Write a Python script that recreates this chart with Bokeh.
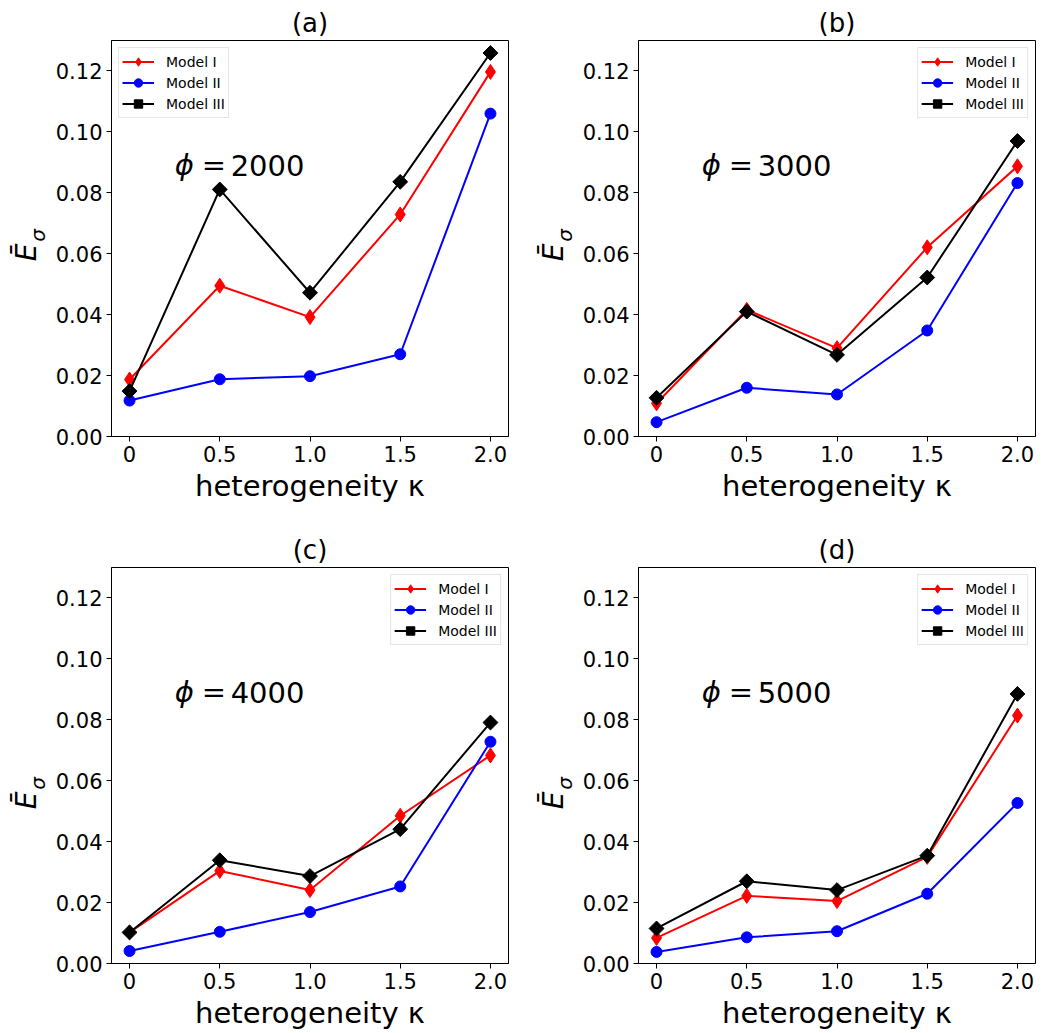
import numpy as np
from bokeh.plotting import figure
from bokeh.models import FixedTicker, PrintfTickFormatter, Label, Range1d
from bokeh.layouts import column, row
from bokeh.embed import file_html
from bokeh.resources import INLINE

# ---- data ----
kappa = [0.0, 0.5, 1.0, 1.5, 2.0]
x_tick_labels = ["0", "0.5", "1.0", "1.5", "2.0"]
y_ticks = [0.0, 0.02, 0.04, 0.06, 0.08, 0.10, 0.12]
panel_titles = ["(a)", "(b)", "(c)", "(d)"]
phi_values = [2000, 3000, 4000, 5000]
series_names = ["Model I", "Model II", "Model III"]

model1_a = [0.0187, 0.0495, 0.0392, 0.0729, 0.1197]
model2_a = [0.0118, 0.0188, 0.0198, 0.0270, 0.1060]
model3_a = [0.0149, 0.0811, 0.0472, 0.0836, 0.1259]

model1_b = [0.0109, 0.0416, 0.0290, 0.0621, 0.0887]
model2_b = [0.0047, 0.0160, 0.0138, 0.0348, 0.0832]
model3_b = [0.0127, 0.0410, 0.0268, 0.0522, 0.0970]

model1_c = [0.0102, 0.0304, 0.0241, 0.0485, 0.0683]
model2_c = [0.0041, 0.0104, 0.0169, 0.0253, 0.0728]
model3_c = [0.0102, 0.0339, 0.0287, 0.0441, 0.0791]

model1_d = [0.0084, 0.0222, 0.0205, 0.0350, 0.0814]
model2_d = [0.0038, 0.0086, 0.0106, 0.0229, 0.0527]
model3_d = [0.0115, 0.0270, 0.0241, 0.0354, 0.0885]

panel_data = [
    (model1_a, model2_a, model3_a),
    (model1_b, model2_b, model3_b),
    (model1_c, model2_c, model3_c),
    (model1_d, model2_d, model3_d),
]
legend_locations = ["top_left", "top_right", "top_right", "top_right"]

FONT = "DejaVu Sans"
FW, FH = 397, 396
YLAB_W = 50
borders = [  # left, right, top, bottom
    (61, 19, 40, 91),
    (61, 13, 40, 91),
    (61, 19, 40, 70),
    (61, 13, 40, 70),
]

styles = [
    dict(color="#ff0000", marker="diamond", size=15, angle=0.0),
    dict(color="#0000ff", marker="circle", size=11, angle=0.0),
    dict(color="#000000", marker="square", size=10.5, angle=np.pi / 4),
]


def ylabel_strip(height):
    """Narrow blank canvas holding the rotated y-axis label  Ē_σ."""
    s = figure(width=YLAB_W, height=height, min_border=0,
               x_axis_type=None, y_axis_type=None,
               x_range=Range1d(0, 1), y_range=Range1d(0, 1),
               output_backend="svg", toolbar_location=None,
               background_fill_color="white", border_fill_color="white")
    s.outline_line_color = None
    s.xgrid.visible = False
    s.ygrid.visible = False
    common = dict(x_units="screen", y_units="screen", angle=np.pi / 2,
                  text_align="center", text_baseline="middle",
                  text_font=FONT, text_font_style="italic", text_color="black")
    s.add_layout(Label(x=26, y=height - 343, text="Ē", text_font_size="28px", **common))
    s.add_layout(Label(x=37, y=height - 326, text="σ", text_font_size="20px", **common))
    return s


def make_panel(i):
    bl, br, bt, bb = borders[i]
    p = figure(
        frame_width=FW, frame_height=FH,
        min_border_left=bl, min_border_right=br,
        min_border_top=bt, min_border_bottom=bb,
        x_range=Range1d(-0.1, 2.1), y_range=Range1d(0.0, 0.13),
        output_backend="svg", toolbar_location=None,
        background_fill_color="white", border_fill_color="white",
    )
    p.title.text = panel_titles[i]
    p.title.align = "center"
    p.title.text_font = FONT
    p.title.text_font_size = "26px"
    p.title.text_font_style = "normal"
    p.title.text_color = "black"
    p.title.standoff = 6

    p.xgrid.visible = False
    p.ygrid.visible = False
    p.outline_line_color = "black"
    p.outline_line_width = 1
    p.outline_line_alpha = 1

    for ax in (p.xaxis[0], p.yaxis[0]):
        ax.axis_line_color = "black"
        ax.major_tick_line_color = "black"
        ax.major_tick_out = 5
        ax.major_tick_in = 0
        ax.minor_tick_line_color = None
        ax.major_label_text_font = FONT
        ax.major_label_text_font_size = "21px"
        ax.major_label_text_color = "black"
        ax.major_label_standoff = 4

    p.xaxis[0].ticker = FixedTicker(ticks=kappa)
    p.xaxis[0].major_label_overrides = {k: lab for k, lab in zip(kappa, x_tick_labels)}
    p.xaxis[0].axis_label = "heterogeneity κ"
    p.xaxis[0].axis_label_text_font = FONT
    p.xaxis[0].axis_label_text_font_size = "29px"
    p.xaxis[0].axis_label_text_font_style = "normal"
    p.xaxis[0].axis_label_text_color = "black"
    p.xaxis[0].axis_label_standoff = 4

    p.yaxis[0].ticker = FixedTicker(ticks=y_ticks)
    p.yaxis[0].formatter = PrintfTickFormatter(format="%.2f")

    for ys, st, name in zip(panel_data[i], styles, series_names):
        p.line(kappa, ys, line_color=st["color"], line_width=2, legend_label=name)
        p.scatter(kappa, ys, marker=st["marker"], size=st["size"], angle=st["angle"],
                  fill_color=st["color"], line_color=st["color"], legend_label=name)

    # phi annotation
    p.add_layout(Label(x=0.25, y=0.089, text="ϕ", text_font=FONT,
                       text_font_size="29px", text_font_style="italic",
                       text_baseline="alphabetic", text_align="left",
                       text_color="black"))
    p.add_layout(Label(x=0.25, y=0.089, x_offset=27, text="=",
                       text_font=FONT, text_font_size="29px",
                       text_font_style="normal", text_baseline="alphabetic",
                       text_align="left", text_color="black"))
    p.add_layout(Label(x=0.25, y=0.089, x_offset=56, text=str(phi_values[i]),
                       text_font=FONT, text_font_size="29px",
                       text_font_style="normal", text_baseline="alphabetic",
                       text_align="left", text_color="black"))

    lg = p.legend[0]
    lg.location = legend_locations[i]
    lg.margin = 7
    lg.padding = 3
    lg.spacing = 0
    lg.glyph_width = 32
    lg.glyph_height = 21
    lg.label_height = 21
    lg.label_standoff = 12
    lg.label_text_font = FONT
    lg.label_text_font_size = "14px"
    lg.label_text_color = "black"
    lg.border_line_color = "#cccccc"
    lg.border_line_width = 1
    lg.background_fill_alpha = 0.8
    return p


panels = [make_panel(i) for i in range(4)]
top_h = 40 + FH + 91
bot_h = 40 + FH + 70
layout = column(
    row(ylabel_strip(top_h), panels[0], ylabel_strip(top_h), panels[1]),
    row(ylabel_strip(bot_h), panels[2], ylabel_strip(bot_h), panels[3]),
)

open("out.html", "w").write(file_html(layout, INLINE))
